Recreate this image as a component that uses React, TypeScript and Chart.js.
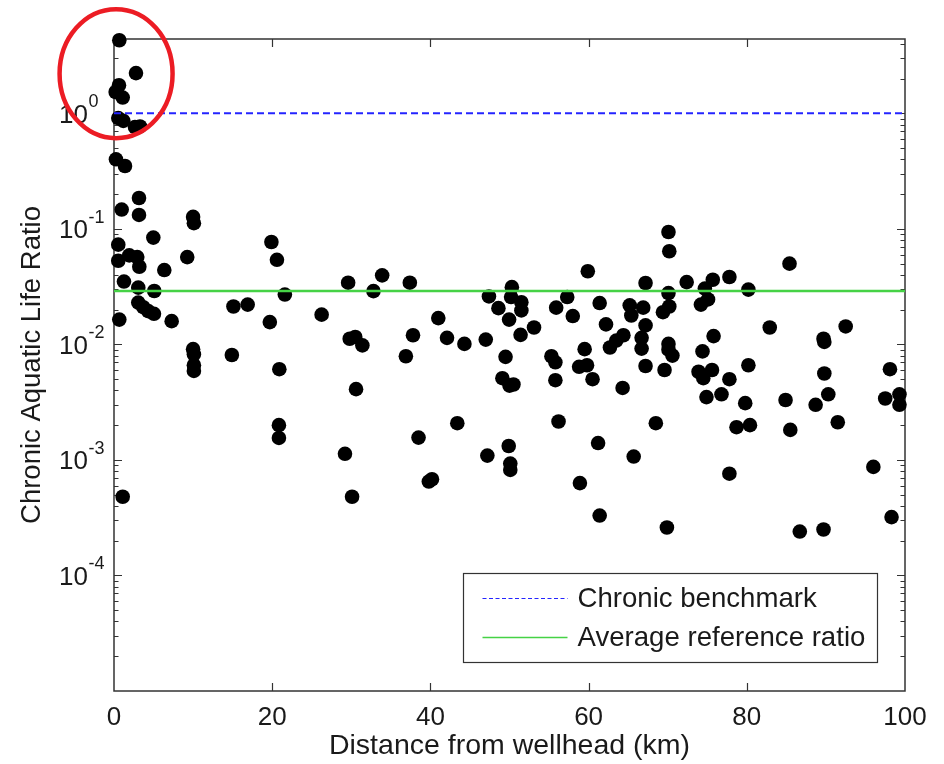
import React, { useEffect, useRef } from 'react';
import { Chart, registerables } from 'chart.js';

Chart.register(...registerables);

// Scatter data: distance from wellhead (km) and chronic aquatic life ratio
const DISTANCE_KM = [
  0.67, 2.78, 0.63, 0.21, 1.10, 0.54, 1.18, 2.65, 3.29, 0.25,
  1.39, 3.16, 0.97, 3.16, 10.0, 10.1, 4.97, 0.54, 19.9, 1.93,
  2.94, 0.54, 3.2, 9.26, 20.6, 6.36, 1.26, 3.07, 5.09, 21.6,
  3.07, 3.70, 4.33, 5.05, 15.1, 16.9, 0.67, 7.29, 19.7, 10.0,
  10.1, 10.1, 10.1, 14.9, 20.9, 20.85, 20.85, 29.2, 30.1, 1.1,
  30.6, 26.25, 29.6, 33.9, 32.8, 37.4, 29.8, 30.5, 31.4, 37.8,
  36.9, 41.0, 42.1, 44.3, 47.0, 47.4, 48.6, 43.4, 38.5, 39.8,
  40.2, 47.2, 70.1, 70.2, 59.9, 50.3, 50.2, 51.5, 51.5, 49.95,
  67.2, 72.4, 57.3, 55.9, 58.0, 61.4, 65.2, 66.9, 65.4, 70.1,
  70.2, 69.4, 67.2, 62.2, 53.1, 51.4, 64.4, 63.5, 62.7, 66.7,
  66.7, 70.1, 70.1, 70.6, 49.5, 55.3, 55.8, 59.5, 58.8, 59.8,
  67.2, 69.6, 49.1, 50.0, 50.5, 55.8, 60.5, 64.3, 56.2, 68.5,
  49.9, 50.1, 50.1, 61.2, 65.7, 58.9, 61.4, 69.9, 85.4, 75.7,
  77.8, 74.7, 80.2, 75.1, 74.2, 82.9, 92.5, 89.7, 89.8, 75.8,
  74.4, 80.2, 98.1, 73.9, 75.6, 74.5, 77.8, 89.8, 99.3, 99.3,
  97.5, 90.3, 88.7, 84.9, 74.9, 76.8, 79.8, 78.7, 80.4, 85.5,
  91.5, 77.8, 96.0, 86.7, 89.7, 98.3,
];

const RATIO = [
  4.29, 2.23, 1.75, 1.53, 1.37, 0.91, 0.86, 0.76, 0.77, 0.40,
  0.35, 0.185, 0.147, 0.132, 0.127, 0.112, 0.084, 0.073, 0.077, 0.059,
  0.057, 0.053, 0.047, 0.057, 0.054, 0.044, 0.035, 0.031, 0.029, 0.027,
  0.023, 0.021, 0.0194, 0.0184, 0.0213, 0.0221, 0.0164, 0.0159, 0.0156, 0.0091,
  0.0082, 0.0066, 0.0059, 0.0081, 0.0061, 0.0020, 0.00155, 0.00113, 0.00048, 0.00048,
  0.0041, 0.0181, 0.0342, 0.0396, 0.0289, 0.0342, 0.0112, 0.0116, 0.0098, 0.0120,
  0.0079, 0.0169, 0.0114, 0.0101, 0.0110, 0.0260, 0.0206, 0.00208, 0.00156, 0.00065,
  0.00068, 0.00109, 0.094, 0.064, 0.043, 0.0313, 0.0257, 0.0232, 0.0197, 0.0164,
  0.034, 0.0346, 0.0257, 0.0208, 0.0176, 0.0228, 0.0218, 0.0208, 0.0178, 0.0278,
  0.0213, 0.019, 0.0146, 0.0149, 0.0140, 0.0121, 0.0120, 0.0108, 0.0094, 0.0114,
  0.0092, 0.0101, 0.0090, 0.0080, 0.0078, 0.0079, 0.0070, 0.0091, 0.0064, 0.0066,
  0.0065, 0.0060, 0.0051, 0.0044, 0.0045, 0.0049, 0.0050, 0.0042, 0.00215, 0.00208,
  0.00132, 0.00093, 0.00082, 0.0014, 0.00107, 0.00063, 0.00033, 0.00026, 0.050, 0.0363,
  0.0383, 0.0304, 0.0298, 0.0245, 0.0221, 0.0140, 0.0143, 0.0112, 0.0105, 0.0118,
  0.0087, 0.0066, 0.0061, 0.0058, 0.0060, 0.0051, 0.0050, 0.0056, 0.0037, 0.0030,
  0.0034, 0.0037, 0.0030, 0.0033, 0.0035, 0.0037, 0.0031, 0.00192, 0.0020, 0.00182,
  0.00212, 0.00076, 0.00087, 0.00024, 0.00025, 0.00032,
];

const BENCHMARK = 1;
const AVG_REFERENCE = 0.029;
const X_MIN = 0;
const X_MAX = 100;
const X_STEP = 20;
const Y_MIN = 1e-5;
const Y_MAX = 4.4;
const Y_LABEL_EXPONENTS = [0, -1, -2, -3, -4];
const Y_DECADE_EXPONENTS = [-5, -4, -3, -2, -1, 0];
const MINOR_MULTIPLIERS = [2, 3, 4, 5, 6, 7, 8, 9];
const LEGEND_LABELS = ['Chronic benchmark', 'Average reference ratio'];
const X_TITLE = 'Distance from wellhead (km)';
const Y_TITLE = 'Chronic Aquatic Life Ratio';
// annotation ellipse centre (data units)
const HIGHLIGHT_X = 0.2;
const HIGHLIGHT_Y = 2.25;

const FONT = "'Liberation Sans', Arial, Helvetica, sans-serif";
const TEXT = '#1a1a1a';
const AXIS = '#333333';

const axisPlugin = {
  id: 'matlabAxes',
  beforeDatasetsDraw(chart: any) {
    const { ctx, chartArea: a, scales } = chart;
    const xs = scales.x;
    const ys = scales.y;
    ctx.save();
    ctx.strokeStyle = AXIS;
    ctx.lineWidth = 1.5;
    ctx.strokeRect(a.left, a.top, a.right - a.left, a.bottom - a.top);
    ctx.lineWidth = 1.2;
    ctx.beginPath();
    for (let v = X_MIN + X_STEP; v < X_MAX; v += X_STEP) {
      const px = Math.round(xs.getPixelForValue(v)) + 0.5;
      ctx.moveTo(px, a.bottom);
      ctx.lineTo(px, a.bottom - 8);
      ctx.moveTo(px, a.top);
      ctx.lineTo(px, a.top + 8);
    }
    for (const e of Y_DECADE_EXPONENTS) {
      const base = Math.pow(10, e);
      const py = Math.round(ys.getPixelForValue(base)) + 0.5;
      if (base > Y_MIN && base < Y_MAX) {
        ctx.moveTo(a.left, py);
        ctx.lineTo(a.left + 8, py);
        ctx.moveTo(a.right, py);
        ctx.lineTo(a.right - 8, py);
      }
      for (const m of MINOR_MULTIPLIERS) {
        const v = m * base;
        if (v <= Y_MIN || v >= Y_MAX) continue;
        const p = Math.round(ys.getPixelForValue(v)) + 0.5;
        ctx.moveTo(a.left, p);
        ctx.lineTo(a.left + 4.5, p);
        ctx.moveTo(a.right, p);
        ctx.lineTo(a.right - 4.5, p);
      }
    }
    ctx.stroke();
    ctx.restore();
  },
  afterDraw(chart: any) {
    const { ctx, chartArea: a, scales } = chart;
    const xs = scales.x;
    const ys = scales.y;
    ctx.save();
    // y tick labels 10^n
    ctx.fillStyle = TEXT;
    for (const e of Y_LABEL_EXPONENTS) {
      const py = ys.getPixelForValue(Math.pow(10, e));
      ctx.font = `26px ${FONT}`;
      ctx.textAlign = 'right';
      ctx.textBaseline = 'middle';
      ctx.fillText('10', a.left - 26, py + 2);
      ctx.font = `18px ${FONT}`;
      ctx.textAlign = 'left';
      ctx.fillText(String(e), a.left - 25.5, py - 11);
    }
    // legend
    const lx = 463.5, ly = 573.5, lw = 414, lh = 89;
    ctx.fillStyle = '#ffffff';
    ctx.fillRect(lx, ly, lw, lh);
    ctx.strokeStyle = AXIS;
    ctx.lineWidth = 1.2;
    ctx.strokeRect(lx, ly, lw, lh);
    const rows = [ly + 25, ly + 64];
    chart.data.datasets.slice(0, 2).forEach((ds: any, i: number) => {
      ctx.beginPath();
      ctx.strokeStyle = ds.borderColor;
      ctx.lineWidth = i === 0 ? 1.2 : 1.5;
      ctx.setLineDash(i === 0 ? [4, 2.5] : []);
      ctx.moveTo(lx + 19, rows[i]);
      ctx.lineTo(lx + 104, rows[i]);
      ctx.stroke();
      ctx.setLineDash([]);
      ctx.fillStyle = TEXT;
      ctx.font = `27.6px ${FONT}`;
      ctx.textAlign = 'left';
      ctx.textBaseline = 'middle';
      ctx.fillText(ds.label, lx + 114, rows[i] + 1);
    });
    // highlight ellipse
    ctx.beginPath();
    ctx.strokeStyle = '#ec1c24';
    ctx.lineWidth = 4.5;
    ctx.ellipse(xs.getPixelForValue(HIGHLIGHT_X) + 0.5, ys.getPixelForValue(HIGHLIGHT_Y) + 1, 56.5, 64.5, 0, 0, Math.PI * 2);
    ctx.stroke();
    ctx.restore();
  },
};

export default function App() {
  const ref = useRef<HTMLCanvasElement | null>(null);
  useEffect(() => {
    document.body.style.margin = '0';
    const canvas = ref.current;
    if (!canvas) return;
    const points = DISTANCE_KM.map((x, i) => ({ x, y: RATIO[i] }));
    const chart = new Chart(canvas, {
      type: 'scatter',
      data: {
        datasets: [
          {
            label: LEGEND_LABELS[0],
            data: [{ x: X_MIN, y: BENCHMARK }, { x: X_MAX, y: BENCHMARK }],
            showLine: true,
            borderColor: '#2424ff',
            borderWidth: 2,
            borderDash: [7, 4],
            pointRadius: 0,
          },
          {
            label: LEGEND_LABELS[1],
            data: [{ x: X_MIN, y: AVG_REFERENCE }, { x: X_MAX, y: AVG_REFERENCE }],
            showLine: true,
            borderColor: '#46d246',
            borderWidth: 2.5,
            pointRadius: 0,
          },
          {
            label: 'Samples',
            data: points,
            pointRadius: 7.3,
            pointBackgroundColor: '#000000',
            pointBorderWidth: 0,
            borderColor: '#000000',
            backgroundColor: '#000000',
            clip: false as any,
          },
        ],
      },
      options: {
        responsive: false,
        animation: false,
        devicePixelRatio: 1,
        layout: { padding: { top: 39, right: 39, left: 0, bottom: 0 } },
        plugins: { legend: { display: false }, tooltip: { enabled: false } },
        scales: {
          x: {
            type: 'linear',
            min: X_MIN,
            max: X_MAX,
            grid: { display: false, drawTicks: false },
            border: { display: false },
            ticks: {
              stepSize: X_STEP,
              padding: 11,
              color: TEXT,
              font: { family: FONT, size: 26 },
              maxRotation: 0,
            },
            title: {
              display: true,
              text: X_TITLE,
              color: TEXT,
              font: { family: FONT, size: 28.5 },
              padding: { top: 0, bottom: 1 },
            },
            afterFit(scale: any) {
              scale.height = 73;
            },
          },
          y: {
            type: 'logarithmic',
            min: Y_MIN,
            max: Y_MAX,
            bounds: 'data',
            grid: { display: false, drawTicks: false },
            border: { display: false },
            ticks: { display: false },
            title: {
              display: true,
              text: Y_TITLE,
              color: TEXT,
              font: { family: FONT, size: 27.5 },
              padding: { top: 16, bottom: 0 },
            },
            afterFit(scale: any) {
              scale.width = 114;
            },
          },
        },
      },
      plugins: [axisPlugin],
    } as any);
    return () => chart.destroy();
  }, []);
  return (
    <div style={{ width: 944, height: 764, background: '#ffffff' }}>
      <canvas ref={ref} width={944} height={764} style={{ display: 'block' }} />
    </div>
  );
}
